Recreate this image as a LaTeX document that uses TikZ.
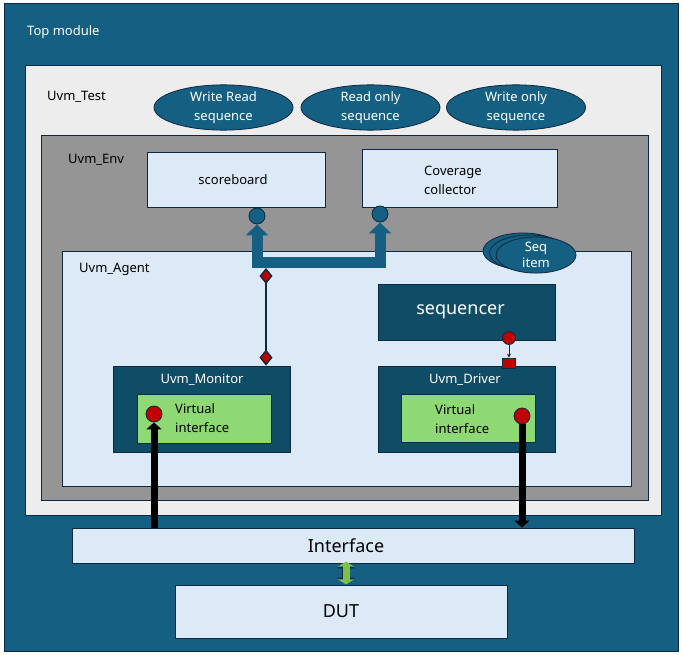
\documentclass[tikz,border=0pt]{standalone}
\usepackage{fontspec}
\setmainfont{Noto Sans}
\usetikzlibrary{arrows.meta,shapes.geometric}
\definecolor{topblue}{HTML}{156082}
\definecolor{darkblue}{HTML}{0F4C65}
\definecolor{paleblue}{HTML}{DCEAF7}
\definecolor{testgray}{HTML}{EDEDED}
\definecolor{envgray}{HTML}{959595}
\definecolor{vifgreen}{HTML}{8ED973}
\definecolor{edge}{HTML}{0E2841}
\definecolor{portred}{HTML}{C00000}
\definecolor{linkgreen}{HTML}{7CC04B}

\begin{document}
\begin{tikzpicture}[x=1pt,y=-1pt,font=\fontsize{13}{19}\selectfont,>={Triangle[width=15pt,length=7pt]}]
\tikzstyle{box}=[draw=edge,line width=0.8pt,inner sep=0pt]
\tikzstyle{tag}=[anchor=west,inner sep=0pt]
\tikzstyle{seqbox}=[box,ellipse,fill=topblue,text=white,align=center,minimum width=139,minimum height=43]
\tikzstyle{itembox}=[box,ellipse,fill=topblue,minimum width=80,minimum height=36]
\tikzstyle{port}=[box,circle,minimum size=16]
\tikzstyle{big}=[font=\fontsize{18}{22}\selectfont]
\tikzstyle{fat}=[line width=11pt,topblue,line join=miter,{Triangle[width=22pt,length=11pt]}-{Triangle[width=22pt,length=11pt]}]
\tikzstyle{wire}=[line width=7pt,black]

\useasboundingbox (0,0) rectangle (682,655);

\node[box,fill=topblue,minimum width=674,minimum height=647.5] (top) at (341,327.25) {};
\node[tag,text=white] (toplbl) at (27,32) {Top module};
\node[box,fill=testgray,minimum width=636,minimum height=450] (test) at (343,290) {};
\node[tag] (testlbl) at (47,97) {Uvm\_Test};
\node[seqbox] (wrseq) at (223.5,107.5) {Write Read\\sequence};
\node[seqbox] (rdseq) at (370.5,107.5) {Read only\\sequence};
\node[seqbox] (wrnseq) at (516,107.5) {Write only\\sequence};

\node[box,fill=envgray,minimum width=607,minimum height=365] (env) at (344.5,317.5) {};
\node[tag] (envlbl) at (68,160) {Uvm\_Env};
\node[box,fill=paleblue,minimum width=178,minimum height=55] (score) at (236,179.5) {\hspace*{-6pt}scoreboard};
\node[box,fill=paleblue,minimum width=195,minimum height=58] (cover) at (459.5,178) {};
\node[tag,align=left] (coverlbl) at (424,180) {Coverage\\collector};

\node[box,fill=paleblue,minimum width=569,minimum height=235] (agent) at (346.5,368.5) {};
\node[tag] (agentlbl) at (79,269) {Uvm\_Agent};
\node[itembox] (item3) at (523,251) {};
\node[itembox] (item2) at (529.5,253) {};
\node[itembox,text=white,align=center] (item1) at (536,255) {\raisebox{-3pt}{Seq}\\item};

\node[port,fill=topblue] (sbport) at (257,216) {};
\node[port,fill=topblue] (cvport) at (380,214) {};
\draw[fat] (sbport.south) -- ++(0,38.5) -| (cvport.south);

\node[box,fill=darkblue,text=white,big,minimum width=177,minimum height=56] (seqr) at (466.5,312) {\hspace*{-12pt}sequencer};
\node[box,fill=darkblue,minimum width=177,minimum height=86] (mon) at (201.5,409) {};
\node[text=white] (monlbl) at (202,380) {Uvm\_Monitor};
\node[box,fill=darkblue,minimum width=177,minimum height=86] (drv) at (466.5,409) {};
\node[text=white] (drvlbl) at (465,380) {Uvm\_Driver};
\node[box,fill=vifgreen,minimum width=134,minimum height=49] (monvif) at (204,418.5) {};
\node[tag,align=left] (monviflbl) at (175,418.5) {Virtual\\interface};
\node[box,fill=vifgreen,minimum width=134,minimum height=48] (drvvif) at (468,418) {};
\node[tag,align=left] (drvviflbl) at (435,419.5) {Virtual\\interface};

\coordinate (tap) at (266,268);
\draw[edge,line width=1.4pt,{Diamond[fill=portred,width=13pt,length=16pt]}-{Diamond[fill=portred,width=13pt,length=16pt]}] (tap) -- (tap |- mon.north);

\node[port,fill=portred,minimum size=13] (seqport) at (509,338) {};
\node[box,fill=portred,minimum width=13,minimum height=10] (drvsq) at (509,363) {};
\draw[edge,line width=0.9pt,-{Stealth[length=4pt,width=4pt]}] (seqport) -- (drvsq);

\node[port,fill=portred] (monport) at (154,414) {};
\node[port,fill=portred] (drvport) at (522,416) {};

\node[box,fill=paleblue,big,minimum width=562,minimum height=35] (iface) at (353,545.5) {\hspace*{-14pt}Interface};
\node[box,fill=paleblue,big,minimum width=332,minimum height=53] (dut) at (341,611.5) {DUT};

\draw[wire,<-] (monport.south) -- (monport.south |- iface.north);
\draw[wire,->] (drvport.south) -- (drvport.south |- iface.north);

\coordinate (linktop) at ([xshift=5pt]iface.south -| dut.north);
\draw[edge,line width=8.4pt,{Triangle[width=18pt,length=6pt]}-{Triangle[width=18pt,length=6pt]}] ([yshift=1pt]linktop) -- ([yshift=1pt]linktop |- dut.north);
\draw[linkgreen,line width=7pt,{Triangle[width=16pt,length=5pt]}-{Triangle[width=16pt,length=5pt]}] ([yshift=1.8pt]linktop) -- ([yshift=0.2pt]linktop |- dut.north);
\end{tikzpicture}
\end{document}
